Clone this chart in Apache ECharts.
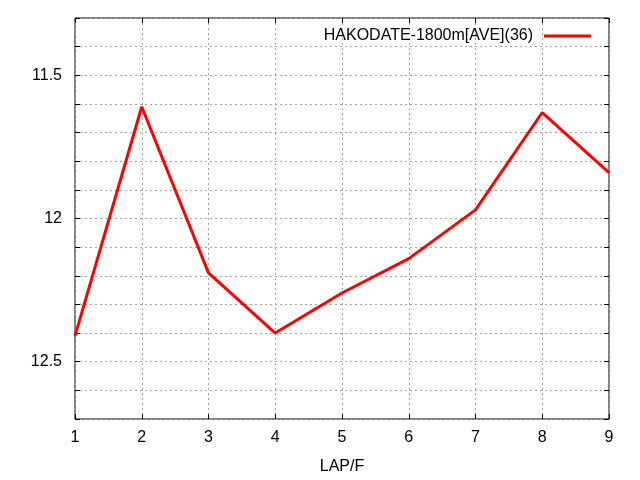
<!DOCTYPE html>
<html><head><meta charset="utf-8">
<script src="https://cdn.jsdelivr.net/npm/echarts@6/dist/echarts.min.js"></script>
<style>html,body{margin:0;padding:0;background:#fff}#c{width:640px;height:480px}</style>
</head><body><div id="c"></div>
<script>
const laps = [1, 2, 3, 4, 5, 6, 7, 8, 9];
const aveTimes = [12.41, 11.61, 12.19, 12.40, 12.26, 12.14, 11.97, 11.63, 11.84];
const yLabels = [11.5, 12, 12.5];
const seriesName = 'HAKODATE-1800m[AVE](36)';

const chart = echarts.init(document.getElementById('c'));
const font = 'Liberation Sans, Arial, sans-serif';
const gridLine = {show: true, lineStyle: {color: '#a0a0a0', type: [2, 3], width: 1}};
const data = laps.map((l, i) => [l, aveTimes[i]]);
function yFmt(v) {
  for (const t of yLabels) if (Math.abs(v - t) < 1e-6) return String(t);
  return '';
}
chart.setOption({
  animation: false,
  grid: {left: 75, right: 31, top: 18, bottom: 61, show: true, borderColor: '#000', borderWidth: 1},
  legend: {
    right: 44, top: 23, align: 'right', icon: 'rect', itemWidth: 47, itemHeight: 3,
    textStyle: {fontFamily: font, fontSize: 16, color: '#000', padding: [0, 6, 0, 0]},
    data: [{name: seriesName, itemStyle: {color: '#ff0000'}}]
  },
  xAxis: [{
    type: 'value', min: 1, max: 9, interval: 1,
    name: 'LAP/F', nameLocation: 'middle', nameGap: 40,
    nameTextStyle: {fontFamily: font, fontSize: 16, color: '#000'},
    axisLine: {show: false}, axisTick: {show: true, inside: true, length: 5, lineStyle: {color: '#000'}},
    axisLabel: {fontFamily: font, fontSize: 16, color: '#000', margin: 11},
    splitLine: gridLine
  }, {
    type: 'value', min: 1, max: 9, interval: 1, position: 'top',
    axisLine: {show: false}, axisTick: {show: true, inside: true, length: 5, lineStyle: {color: '#000'}},
    axisLabel: {show: false}, splitLine: {show: false}
  }],
  yAxis: [{
    type: 'value', inverse: true, min: 11.3, max: 12.7, interval: 0.1,
    axisLine: {show: false}, axisTick: {show: true, inside: true, length: 5, lineStyle: {color: '#000'}},
    axisLabel: {fontFamily: font, fontSize: 16, color: '#000', margin: 13, formatter: yFmt},
    splitLine: gridLine
  }, {
    type: 'value', inverse: true, min: 11.3, max: 12.7, interval: 0.1, position: 'right',
    axisLine: {show: false}, axisTick: {show: true, inside: true, length: 5, lineStyle: {color: '#000'}},
    axisLabel: {show: false}, splitLine: {show: false}
  }],
  series: [{
    name: seriesName, type: 'line', data: data, symbol: 'none',
    lineStyle: {color: '#ff0000', width: 3}, itemStyle: {color: '#ff0000'}
  }]
});
</script></body></html>
